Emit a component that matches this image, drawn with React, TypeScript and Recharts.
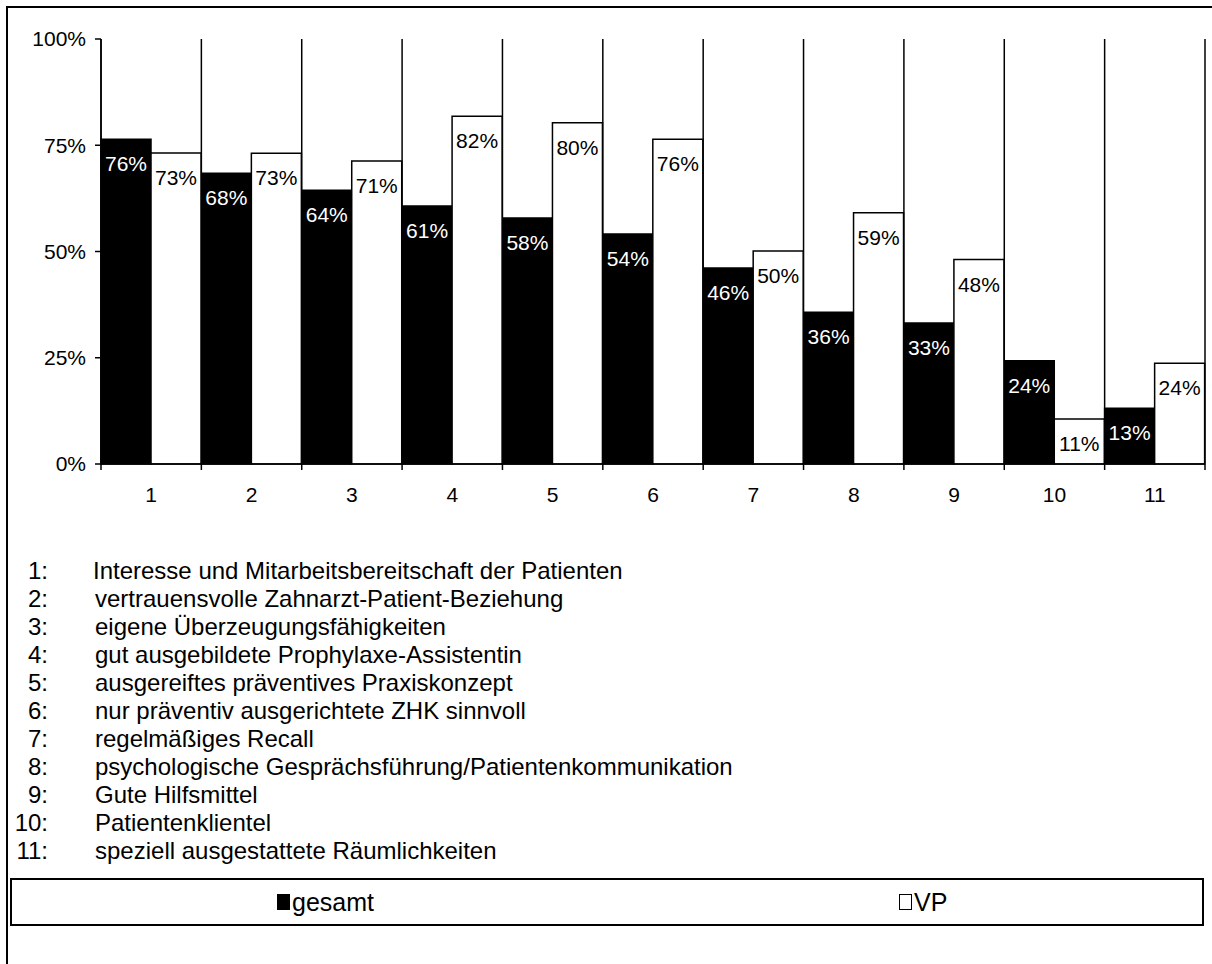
import React from 'react';
import { BarChart, Bar, XAxis, YAxis, CartesianGrid, LabelList, Legend } from 'recharts';

const categories = ['1', '2', '3', '4', '5', '6', '7', '8', '9', '10', '11'];
const gesamt = [76.4, 68.4, 64.4, 60.7, 57.9, 54.1, 46.1, 35.7, 33.2, 24.3, 13.1];
const vp = [73.2, 73.1, 71.3, 81.8, 80.3, 76.4, 50.1, 59.1, 48.1, 10.6, 23.7];
const seriesNames = ['gesamt', 'VP'];
const yTicks = [0, 25, 50, 75, 100];
const descriptions = [
  'Interesse und Mitarbeitsbereitschaft der Patienten',
  'vertrauensvolle Zahnarzt-Patient-Beziehung',
  'eigene Überzeugungsfähigkeiten',
  'gut ausgebildete Prophylaxe-Assistentin',
  'ausgereiftes präventives Praxiskonzept',
  'nur präventiv ausgerichtete ZHK sinnvoll',
  'regelmäßiges Recall',
  'psychologische Gesprächsführung/Patientenkommunikation',
  'Gute Hilfsmittel',
  'Patientenklientel',
  'speziell ausgestattete Räumlichkeiten',
];

const data = categories.map((cat, i) => ({ cat, gesamt: gesamt[i], vp: vp[i] }));

const FONT = '"Liberation Sans", Arial, Helvetica, sans-serif';
const W = 1212;
const H = 964;
const Y_AXIS_W = 101;
const X_AXIS_H = 30;
const MARGIN = { top: 39, right: 7, left: 0, bottom: H - 464 - X_AXIS_H };
const PLOT_W = W - MARGIN.left - Y_AXIS_W - MARGIN.right;
const STEP = PLOT_W / categories.length;

// category label in the middle, small tick marks on the category borders
const XTick = (props: any) => {
  const { x, y, payload, index } = props;
  return (
    <g>
      <line x1={x - STEP / 2} x2={x - STEP / 2} y1={y} y2={y + 6} stroke="#000" strokeWidth={1.5} />
      {index === categories.length - 1 && (
        <line x1={x + STEP / 2} x2={x + STEP / 2} y1={y} y2={y + 6} stroke="#000" strokeWidth={1.5} />
      )}
      <text x={x} y={y + 38} textAnchor="middle" fontSize={21} fontFamily={FONT} fill="#000">
        {payload.value}
      </text>
    </g>
  );
};

const barLabel = (color: string) => (props: any) => {
  const { x, y, width, value } = props;
  return (
    <text x={x + width / 2} y={y + 32} textAnchor="middle" fontSize={21} fontFamily={FONT} fill={color}>
      {Math.round(value)}%
    </text>
  );
};

const LegendBox = (props: any) => {
  const items = [...(props.payload || [])].sort(
    (a: any, b: any) => seriesNames.indexOf(a.value) - seriesNames.indexOf(b.value)
  );
  const lefts = [265, 887];
  return (
    <div
      style={{
        position: 'relative',
        width: 1194,
        height: 48,
        boxSizing: 'border-box',
        border: '2px solid #000',
        background: '#fff',
        fontFamily: FONT,
        fontSize: 25,
      }}
    >
      {items.map((p: any, i: number) => (
        <div
          key={p.value}
          style={{ position: 'absolute', left: lefts[i], top: 0, height: 44, display: 'flex', alignItems: 'center' }}
        >
          <span
            style={{
              display: 'inline-block',
              width: 11,
              height: 14,
              background: p.color,
              border: '1.5px solid #000',
              marginRight: 2,
            }}
          />
          <span>{p.value}</span>
        </div>
      ))}
    </div>
  );
};

export default function App() {
  return (
    <div style={{ position: 'absolute', left: 0, top: 0, width: W, height: H, overflow: 'hidden', background: '#fff' }}>
      <div
        style={{
          position: 'absolute',
          left: 6,
          top: 6,
          width: W + 20,
          height: H + 20,
          border: '2px solid #000',
        }}
      />
      <div style={{ position: 'absolute', left: 0, top: 0 }}>
        <BarChart width={W} height={H} data={data} margin={MARGIN} barCategoryGap={0} barGap={0}>
          <CartesianGrid
            horizontal={false}
            stroke="#000"
            strokeWidth={1.5}
            verticalCoordinatesGenerator={({ offset }: any) =>
              Array.from({ length: categories.length + 1 }, (_, i) => offset.left + (i * offset.width) / categories.length)
            }
          />
          <XAxis
            dataKey="cat"
            height={X_AXIS_H}
            tickLine={false}
            tickSize={0}
            tickMargin={0}
            axisLine={{ stroke: '#000', strokeWidth: 1.5 }}
            tick={<XTick />}
            interval={0}
          />
          <YAxis
            width={Y_AXIS_W}
            domain={[0, 100]}
            ticks={yTicks}
            tickFormatter={(v: number) => `${v}%`}
            tickSize={6}
            tickMargin={9}
            axisLine={{ stroke: '#000', strokeWidth: 1.5 }}
            tickLine={{ stroke: '#000', strokeWidth: 1.5 }}
            tick={{ fill: '#000', fontSize: 21, fontFamily: FONT }}
          />
          <Bar dataKey="gesamt" name="gesamt" fill="#000" stroke="#000" strokeWidth={1.5} isAnimationActive={false}>
            <LabelList dataKey="gesamt" content={barLabel('#fff')} />
          </Bar>
          <Bar dataKey="vp" name="VP" fill="#fff" stroke="#000" strokeWidth={1.5} isAnimationActive={false}>
            <LabelList dataKey="vp" content={barLabel('#000')} />
          </Bar>
          <Legend
            layout="horizontal"
            verticalAlign="middle"
            align="center"
            content={<LegendBox />}
            wrapperStyle={{ position: 'absolute', left: 10, top: 878, width: 1194 }}
          />
        </BarChart>
      </div>
      {descriptions.map((d, i) => (
        <div
          key={i}
          style={{
            position: 'absolute',
            left: 0,
            top: 571 + i * 28 - 14,
            height: 28,
            lineHeight: '28px',
            fontFamily: FONT,
            fontSize: 24,
            whiteSpace: 'nowrap',
          }}
        >
          <span style={{ display: 'inline-block', width: 48, textAlign: 'right' }}>{i + 1}:</span>
          <span style={{ position: 'absolute', left: i === 0 ? 93 : 95 }}>{d}</span>
        </div>
      ))}
    </div>
  );
}
